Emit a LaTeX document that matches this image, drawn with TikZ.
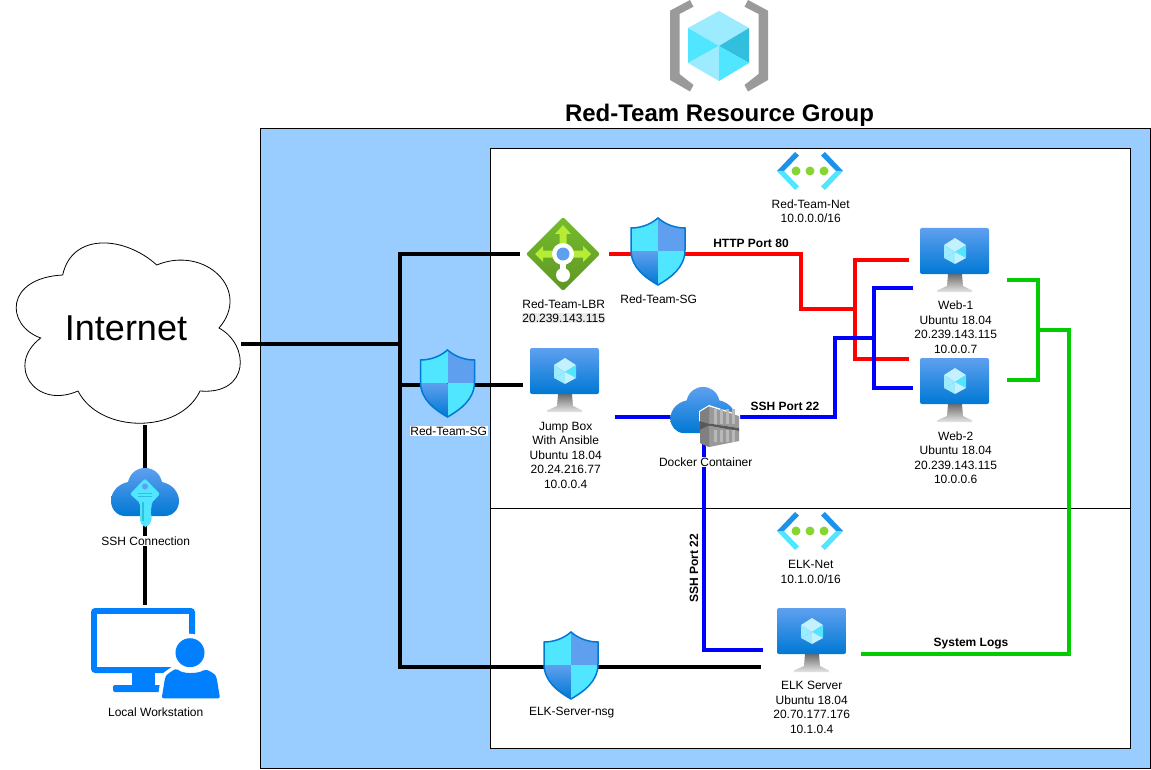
\documentclass[tikz,border=0pt]{standalone}
\usepackage{fontspec}
\setmainfont{Liberation Sans}
\definecolor{rgPanel}{HTML}{99CCFF}
\definecolor{rgSky}{HTML}{5EA0EF}
\definecolor{rgAzure}{HTML}{0078D4}
\definecolor{rgCyan}{HTML}{50E6FF}
\definecolor{rgPale}{HTML}{9CEBFF}
\definecolor{rgIce}{HTML}{C3F1FF}
\definecolor{rgTeal}{HTML}{32BEDD}
\definecolor{rgGray}{HTML}{9A9A9A}
\definecolor{rgLeaf}{HTML}{B4EC36}
\definecolor{rgMoss}{HTML}{76BC2D}
\definecolor{rgFern}{HTML}{5E9624}
\definecolor{rgDot}{HTML}{86D633}
\definecolor{rgNet}{HTML}{1B93EB}
\definecolor{rgUser}{HTML}{007FFF}
\definecolor{rgGreen}{HTML}{00CC00}
\tikzset{
  rg box/.style={draw=black, line width=1pt},
  rg black/.style={draw=black, line width=4pt},
  rg red/.style={draw=red, line width=4pt},
  rg blue/.style={draw=blue, line width=4pt},
  rg green/.style={draw=rgGreen, line width=4pt},
  rg label/.style={font=\fontsize{12}{14.5}\selectfont, align=center, inner sep=0.5pt, xshift=0.7pt},
  rg tag/.style={font=\fontsize{12}{14.5}\bfseries\selectfont, inner sep=0.5pt},
  rg masked/.style={rg label, fill=white},
  shield path/.style={insert path={(0,0) .. controls (-8,7) and (-18,10) .. (-27,10) -- (-27,32)
    .. controls (-27,50) and (-12,60) .. (0,67) .. controls (12,60) and (27,50) .. (27,32)
    -- (27,10) .. controls (18,10) and (8,7) .. (0,0) -- cycle}},
  shield icon/.pic={
    \begin{scope}
      \clip[shield path];
      \fill[rgCyan] (-27,0) rectangle (0,33);
      \fill[rgSky] (0,0) rectangle (27,33);
      \shade[top color=rgSky, bottom color=rgAzure] (-27,33) rectangle (0,67);
      \fill[rgCyan] (0,33) rectangle (27,67);
    \end{scope}
    \draw[rgAzure, line width=1.5pt, shield path];
  },
  vm icon/.pic={
    \shade[top color=gray!85!black, bottom color=gray!20] (28,46) -- (42,46) -- (43,58) -- (52,62.5) -- (52,64) -- (17,64) -- (17,62.5) -- (27,58) -- cycle;
    \shade[top color=rgSky, bottom color=rgAzure, rounded corners=2pt] (0,0) rectangle (69,46);
    \fill[rgIce] (35,10) -- (46,17) -- (35,24) -- (24,17) -- cycle;
    \fill[rgPale] (24,17) -- (35,24) -- (24,30) -- cycle;
    \fill[rgCyan] (46,17) -- (46,30) -- (35,24) -- cycle;
    \fill[rgPale] (24,30) -- (35,24) -- (35,36) -- cycle;
    \fill[rgIce] (35,24) -- (46,30) -- (35,36) -- cycle;
  },
  net icon/.pic={
    \foreach \s in {-1,1} {
      \fill[rgNet] (\s*33,0) -- (\s*15,-19) -- (\s*11,-15.5) -- (\s*26,0) -- cycle;
      \fill[rgCyan] (\s*33,0) -- (\s*15,19) -- (\s*11,15.5) -- (\s*26,0) -- cycle;
    }
    \foreach \d in {-14,0,14} {
      \fill[rgDot] (\d,0) circle[radius=4.5];
    }
  },
  cloud icon/.pic={
    \shade[top color=rgSky, bottom color=rgAzure] (-20,24) .. controls (-28,24) and (-34,17) .. (-34,9)
      .. controls (-34,0) and (-27,-8) .. (-17,-10) .. controls (-15,-19) and (-8,-24) .. (0,-24)
      .. controls (8,-24) and (15,-19) .. (17,-10) .. controls (27,-8) and (34,0) .. (34,9)
      .. controls (34,17) and (28,24) .. (20,24) -- cycle;
  },
}

\begin{document}
\begin{tikzpicture}[x=1pt, y=-1pt]
  \useasboundingbox (0,0) rectangle (1151,770);

  % Panels
  \draw[rg box, fill=rgPanel] (260.5,128.5) rectangle (1150.5,768);
  \draw[rg box, fill=white] (490.5,149) rectangle (1130,748);
  \coordinate (splitLeft) at (490.5,508.5);
  \coordinate (splitRight) at (1130,508.5);
  \draw[rg box] (splitLeft) -- (splitRight);

  % Resource group icon
  \fill[rgGray] (690,0) -- (693.5,6.7) -- (679.5,14) -- (679.5,74) -- (693.5,85) -- (690,91.5) -- (670,80) -- (670,10.7) -- cycle;
  \fill[rgGray] (748,0) -- (744.5,6.7) -- (758.5,14) -- (758.5,74) -- (744.5,85) -- (748,91.5) -- (768,80) -- (768,10.7) -- cycle;
  \fill[rgPale] (719,11) -- (749,28) -- (719,46) -- (688,28) -- cycle;
  \fill[rgCyan] (688,28) -- (719,46) -- (688,63) -- cycle;
  \fill[rgTeal] (749,28) -- (749,63) -- (719,46) -- cycle;
  \fill[rgPale] (688,63) -- (719,46) -- (719,81) -- cycle;
  \fill[rgCyan] (719,46) -- (749,63) -- (719,81) -- cycle;
  \node[font=\fontsize{24}{28}\bfseries\selectfont, inner sep=0pt] (groupTitle) at (719.5,115) {Red-Team Resource Group};

  % Internet cloud
  \draw[black, fill=white, line width=0.8pt] (40.7,338) .. controls (5,325) and (5,278) .. (62.7,275)
    .. controls (72,232) and (125,236) .. (156.7,265) .. controls (205,245) and (252,290) .. (219,328)
    .. controls (250,345) and (250,395) .. (200,391) .. controls (180,434) and (100,434) .. (78,391)
    .. controls (35,410) and (5,365) .. (40.7,338) -- cycle;
  \node[font=\fontsize{36}{40}\selectfont, inner sep=0pt] (internet) at (126,328) {Internet};

  % Black links
  \coordinate (internetOut) at (241,344);
  \coordinate (trunk) at (400,344);
  \coordinate (lbrIn) at (520,254);
  \coordinate (jumpIn) at (523,385);
  \coordinate (elkIn) at (761,667);
  \coordinate (cloudOut) at (145,425);
  \coordinate (stationIn) at (145,605);
  \draw[rg black] (internetOut) -- (trunk);
  \draw[rg black] (lbrIn) -- (trunk |- lbrIn) -- (trunk |- elkIn) -- (elkIn);
  \draw[rg black] (trunk |- jumpIn) -- (jumpIn);
  \draw[rg black] (cloudOut) -- (stationIn);

  % Red links
  \coordinate (sgOut) at (609,254);
  \coordinate (redBend) at (801,309);
  \coordinate (redTrunk) at (855,309);
  \coordinate (webOneRed) at (909,260);
  \coordinate (webTwoRed) at (909,359);
  \draw[rg red] (sgOut) -| (redBend) -- (redTrunk);
  \draw[rg red] (webOneRed) -- (redTrunk |- webOneRed) -- (redTrunk |- webTwoRed) -- (webTwoRed);

  % Blue links
  \coordinate (jumpOut) at (615,417);
  \coordinate (blueBend) at (835,338);
  \coordinate (blueTrunk) at (874,338);
  \coordinate (webOneBlue) at (913,288);
  \coordinate (webTwoBlue) at (913,388);
  \coordinate (dockerHub) at (704,417);
  \coordinate (elkBlue) at (763,650);
  \draw[rg blue] (jumpOut) -| (blueBend) -- (blueTrunk);
  \draw[rg blue] (webOneBlue) -- (blueTrunk |- webOneBlue) -- (blueTrunk |- webTwoBlue) -- (webTwoBlue);
  \draw[rg blue] (dockerHub) |- (elkBlue);

  % Green links
  \coordinate (webOneOut) at (1007,280);
  \coordinate (webTwoOut) at (1007,380);
  \coordinate (greenJoin) at (1038,330);
  \coordinate (greenTrunk) at (1069,330);
  \coordinate (elkOut) at (861,654);
  \draw[rg green] (webOneOut) -- (greenJoin |- webOneOut) -- (greenJoin |- webTwoOut) -- (webTwoOut);
  \draw[rg green] (greenJoin) -- (greenTrunk) |- (elkOut);

  % Load balancer
  \begin{scope}[shift={(563,254)}]
    \shade[top color=rgMoss, bottom color=rgFern, rounded corners=2pt] (0,-37) -- (37,0) -- (0,37) -- (-37,0) -- cycle;
    \fill[rgLeaf] (0,-29) -- (8,-20) -- (3.5,-20) -- (3.5,-3.5) -- (20,-3.5) -- (20,-8) -- (28,0) -- (20,8) -- (20,3.5) -- (-20,3.5) -- (-20,8) -- (-28,0) -- (-20,-8) -- (-20,-3.5) -- (-3.5,-3.5) -- (-3.5,-20) -- (-8,-20) -- cycle;
    \fill[white] (0,0) circle[radius=11];
    \fill[white] (-3,0) rectangle (3,20);
    \fill[white] (0,21) circle[radius=7];
    \fill[rgSky] (0,0) circle[radius=6.5];
  \end{scope}

  % Shields
  \pic at (658,218) {shield icon};
  \pic at (447.5,350) {shield icon};
  \pic at (571,632) {shield icon};

  % Virtual machines
  \pic at (530,348) {vm icon};
  \pic at (920,228) {vm icon};
  \pic at (920,358) {vm icon};
  \pic at (777,608) {vm icon};

  % Virtual networks
  \pic at (810,171) {net icon};
  \pic at (810,531) {net icon};

  % Docker container
  \pic[scale=0.96] at (703,410) {cloud icon};
  \begin{scope}[shift={(695,400)}]
    \fill[white] (4,11) -- (14,5) -- (45,15) -- (45,29) -- (14,24) -- (4,21) -- cycle;
    \fill[gray!80] (5,12) -- (14,6.5) -- (44,16) -- (44,28) -- (14,23.5) -- (5,21) -- cycle;
    \fill[gray!80] (5,30) -- (14,25.5) -- (44,31) -- (44,41) -- (14,47) -- (5,43) -- cycle;
    \fill[black!65] (5,21) -- (14,23.5) -- (44,28) -- (44,31) -- (14,25.5) -- (5,30) -- cycle;
    \fill[gray!100] (5,12) -- (14,6.5) -- (14,23.5) -- (5,21) -- cycle;
    \fill[gray!100] (5,30) -- (14,25.5) -- (14,47) -- (5,43) -- cycle;
    \foreach \x in {19,25,31,37} {
      \fill[gray!55] (\x,9) rectangle (\x+3,24);
      \fill[gray!55] (\x,30) rectangle (\x+3,42);
    }
  \end{scope}

  % SSH key
  \pic at (145,492) {cloud icon};
  \begin{scope}[shift={(145,492)}]
    \fill[rgCyan, rounded corners=2pt] (0,-13.5) -- (15,2) -- (6.5,11) -- (6.5,17) -- (5,19) -- (6.5,22) -- (6.5,29) -- (2,35) -- (-1,35) -- (-5,30) -- (-5,11) -- (-15,2) -- cycle;
    \fill[rgSky] (0,-5.5) circle[radius=3];
    \fill[rgTeal] (-7,0.5) rectangle (7,1.8);
    \fill[rgTeal] (-7,4) rectangle (7,5.3);
    \fill[rgTeal] (-3.5,10) rectangle (-1.5,29);
  \end{scope}

  % Local workstation
  \fill[rgUser, rounded corners=4pt] (91,608) rectangle (195,673);
  \fill[white] (97,614) rectangle (189,667);
  \fill[rgUser] (132,672) rectangle (155,686);
  \fill[rgUser, rounded corners=2pt] (113,685) rectangle (163,692);
  \fill[white] (190,652.7) circle[radius=19];
  \draw[white, fill=white, line width=8pt, line join=round] (161.7,698.3) -- (165,676.7) -- (176.7,668.3) -- (190,674.3) -- (205,669.3) -- (216.7,676.7) -- (220,698.3) -- cycle;
  \fill[white] (155,698) rectangle (226,704);
  \fill[rgUser] (190,652.7) circle[radius=14.5];
  \fill[rgUser, rounded corners=2pt] (161.7,698.3) -- (165,678) .. controls (167,674) and (172,671) .. (176.7,668.3) .. controls (182,674) and (198,674) .. (205,669.3) .. controls (210,671) and (215,674) .. (216.7,678) -- (220,698.3) -- cycle;

  % Labels
  \node[rg label] (netRedLabel) at (810,211) {Red-Team-Net\\10.0.0.0/16};
  \node[rg label] (lbrLabel) at (563,304) {Red-Team-LBR};
  \node[rg label, fill=black!8] (lbrAddress) at (563,318) {20.239.143.115};
  \node[rg label] (sgRedLabel) at (658,299) {Red-Team-SG};
  \node[rg masked] (sgJumpLabel) at (448,431) {Red-Team-SG};
  \node[rg label] (jumpLabel) at (565,455) {Jump Box\\With Ansible\\Ubuntu 18.04\\20.24.216.77\\10.0.0.4};
  \node[rg masked] (dockerLabel) at (705,462) {Docker Container};
  \node[rg label] (webOneLabel) at (955,327) {Web-1\\Ubuntu 18.04\\20.239.143.115\\10.0.0.7};
  \node[rg label] (webTwoLabel) at (955,457.5) {Web-2\\Ubuntu 18.04\\20.239.143.115\\10.0.0.6};
  \node[rg label] (netElkLabel) at (810,572) {ELK-Net\\10.1.0.0/16};
  \node[rg label] (elkLabel) at (811,707.5) {ELK Server\\Ubuntu 18.04\\20.70.177.176\\10.1.0.4};
  \node[rg label] (nsgLabel) at (571,713) {ELK-Server-nsg};
  \node[rg masked] (sshLabel) at (145,541) {SSH Connection};
  \node[rg label] (stationLabel) at (155,712) {Local Workstation};
  \node[rg tag] (httpTag) at (751,243) {HTTP Port 80};
  \node[rg tag] (sshTag) at (785,406) {SSH Port 22};
  \node[rg tag, rotate=90] (sshElkTag) at (694,568) {SSH Port 22};
  \node[rg tag] (logsTag) at (971,644) {System Logs};
\end{tikzpicture}
\end{document}
